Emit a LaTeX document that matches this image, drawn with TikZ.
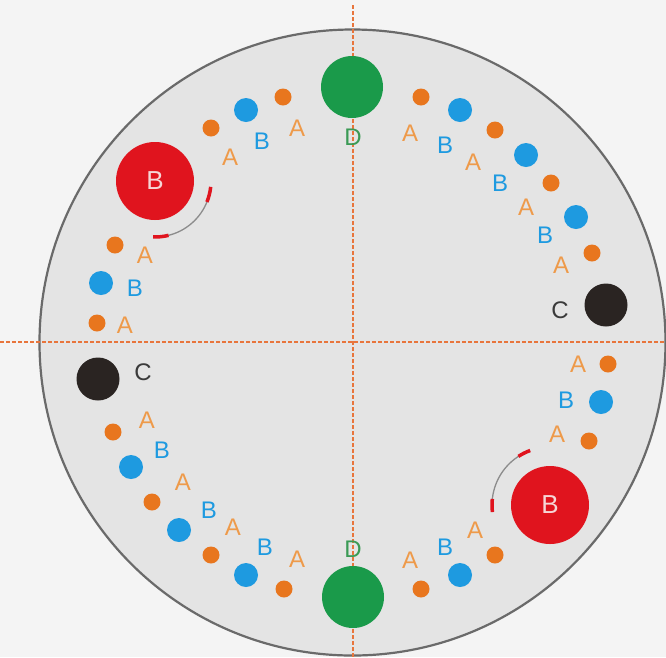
\documentclass[tikz,border=0pt]{standalone}
\usepackage{fontspec}
\setmainfont{Liberation Sans}
\definecolor{bgc}{HTML}{F4F4F4}
\definecolor{discc}{HTML}{E4E4E4}
\definecolor{rimc}{HTML}{6A6A6A}
\definecolor{dashc}{HTML}{E8753C}
\definecolor{orgdot}{HTML}{E8761E}
\definecolor{orgtxt}{HTML}{EE9A4A}
\definecolor{bluec}{HTML}{1E9AE0}
\definecolor{redc}{HTML}{E0141E}
\definecolor{greenc}{HTML}{1A9A4A}
\definecolor{blackc}{HTML}{2A2422}
\definecolor{ctxt}{HTML}{3A3A3A}
\definecolor{dtxt}{HTML}{3A9A55}
\definecolor{pinkw}{HTML}{F6D6D6}
\begin{document}
\begin{tikzpicture}[x=1pt,y=-1pt,
  odot/.style={circle,fill=orgdot,inner sep=0pt,minimum size=17pt},
  bdot/.style={circle,fill=bluec,inner sep=0pt,minimum size=24pt},
  kdot/.style={circle,fill=blackc,inner sep=0pt,minimum size=43pt},
  rdot/.style={circle,fill=redc,inner sep=0pt,minimum size=78pt,text=pinkw,font=\fontsize{26}{26}\selectfont},
  gdot/.style={circle,fill=greenc,inner sep=0pt,minimum size=62pt},
  lbl/.style={inner sep=0pt,font=\fontsize{24}{24}\selectfont},
  lblA/.style={lbl,text=orgtxt},
  lblB/.style={lbl,text=bluec},
  lblC/.style={lbl,text=ctxt},
  lblD/.style={lbl,text=dtxt},
  guide/.style={dashc,line width=1.2pt,dash pattern=on 4pt off 2pt},
  arcg/.style={gray!90,line width=1.3pt},
  arcr/.style={redc,line width=3.5pt}]
\fill[bgc] (0,0) rectangle (666,657);
\useasboundingbox (0,0) rectangle (666,657);
\filldraw[fill=discc,draw=rimc,line width=2.2pt] (352.5,342.5) circle[radius=313];
\draw[guide] (0,342) -- (666,342);
\draw[guide] (353,5) -- (353,657);
% orange dots
\foreach \n/\x/\y in {1/283/97,2/211/128,3/115/245,4/97/323,5/421/97,6/495/130,7/551/183,8/592/253,
  9/113/432,10/152/502,11/211/555,12/284/589,13/608/364,14/589/441,15/495/555,16/421/589}
  \node[odot] (o\n) at (\x,\y) {};
% blue dots
\foreach \n/\x/\y in {1/246/110,2/101/283,3/460/110,4/526/155,5/576/217,6/131/467,7/179/530,8/246/575,9/601/402,10/460/575}
  \node[bdot] (b\n) at (\x,\y) {};
% black, green, red
\node[kdot] (k1) at (606,305) {};
\node[kdot] (k2) at (98,379) {};
\node[gdot] (g1) at (352,87) {};
\node[gdot] (g2) at (353,597) {};
\node[rdot] (r1) at (155,181) {B};
\node[rdot] (r2) at (550,505) {B};
% labels
\foreach \n/\x/\y in {1/297/128,2/230/157,3/145/255,4/125/325,5/410/133,6/473/162,7/526/207,8/561/265,
  9/147/420,10/183/482,11/233/527,12/297/559,13/578/364,14/557/434,15/475/530,16/410/560}
  \node[lblA] (la\n) at (\x,\y) {A};
\foreach \n/\x/\y in {1/262/141,2/135/288,3/445/145,4/500/183,5/545/235,6/162/450,7/209/510,8/265/547,9/566/400,10/445/547}
  \node[lblB] (lb\n) at (\x,\y) {B};
\node[lblC] (lc1) at (560,310) {C};
\node[lblC] (lc2) at (143,372) {C};
\node[lblD] (ld1) at (353,137) {D};
\node[lblD] (ld2) at (353,549) {D};
% rotation arcs
\draw[arcg] (r1.center) ++(20:56) arc[start angle=20,end angle=78,radius=56];
\draw[arcr] (r1.center) ++(6:56) arc[start angle=6,end angle=22,radius=56];
\draw[arcr] (r1.center) ++(76:56) arc[start angle=76,end angle=92,radius=56];
\draw[arcg] (r2.center) ++(183:58) arc[start angle=183,end angle=240,radius=58];
\draw[arcr] (r2.center) ++(173:58) arc[start angle=173,end angle=186,radius=58];
\draw[arcr] (r2.center) ++(237:58) arc[start angle=237,end angle=250,radius=58];
\end{tikzpicture}
\end{document}
